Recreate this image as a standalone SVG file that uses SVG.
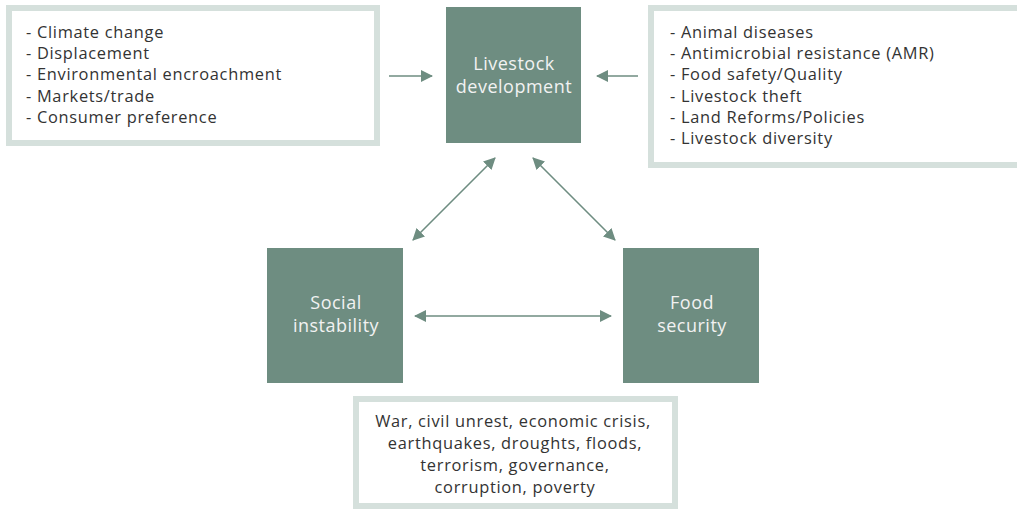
<svg xmlns="http://www.w3.org/2000/svg" width="1017" height="512" viewBox="0 0 1017 512">
<defs>
<marker id="ah" viewBox="0 0 12 12" refX="11" refY="6" markerWidth="12" markerHeight="12" markerUnits="userSpaceOnUse" orient="auto-start-reverse">
<path d="M0,0 L12,6 L0,12 Z" fill="#6e8d81"/>
</marker>
<style>
.frame{fill:#ffffff;stroke:#d5e0dc;stroke-width:6}
.node{fill:#6e8d81}
.nt{font-family:"Open Sans","Noto Sans",sans-serif;font-size:18px;letter-spacing:0.5px;fill:#f2f2f2;text-anchor:middle}
.lt{font-family:"Open Sans","Noto Sans",sans-serif;font-size:16.4px;letter-spacing:0.7px;fill:#333333}
.ct{font-family:"Open Sans","Noto Sans",sans-serif;font-size:16.4px;letter-spacing:0.7px;fill:#333333;text-anchor:middle}
.conn{stroke:#6e8d81;stroke-width:1.6;fill:none}
</style>
</defs>
<rect width="1017" height="512" fill="#ffffff"/>
<g id="external-factors">
<rect class="frame" x="9" y="8" width="368" height="135"/>
<text class="lt" x="26" y="38">- Climate change</text>
<text class="lt" x="26" y="59">- Displacement</text>
<text class="lt" x="26" y="80">- Environmental encroachment</text>
<text class="lt" x="26" y="102">- Markets/trade</text>
<text class="lt" x="26" y="123">- Consumer preference</text>
</g>
<g id="livestock-factors">
<rect class="frame" x="651" y="8" width="380" height="157"/>
<text class="lt" x="670" y="38">- Animal diseases</text>
<text class="lt" x="670" y="59">- Antimicrobial resistance (AMR)</text>
<text class="lt" x="670" y="80">- Food safety/Quality</text>
<text class="lt" x="670" y="102">- Livestock theft</text>
<text class="lt" x="670" y="123">- Land Reforms/Policies</text>
<text class="lt" x="670" y="144">- Livestock diversity</text>
</g>
<g id="social-factors">
<rect class="frame" x="356" y="399" width="319" height="107"/>
<text class="ct" x="513" y="427">War, civil unrest, economic crisis,</text>
<text class="ct" x="515" y="449">earthquakes, droughts, floods,</text>
<text class="ct" x="515" y="471">terrorism, governance,</text>
<text class="ct" x="515" y="493">corruption, poverty</text>
</g>
<g id="livestock-development">
<rect class="node" x="446" y="7" width="135" height="136"/>
<text class="nt" x="514" y="70">Livestock</text>
<text class="nt" x="514" y="93">development</text>
</g>
<g id="social-instability">
<rect class="node" x="267" y="248" width="136" height="135"/>
<text class="nt" x="336" y="309">Social</text>
<text class="nt" x="336" y="332">instability</text>
</g>
<g id="food-security">
<rect class="node" x="623" y="248" width="136" height="135"/>
<text class="nt" x="692" y="309">Food</text>
<text class="nt" x="692" y="332">security</text>
</g>
<g id="connectors">
<line class="conn" x1="389" y1="76" x2="432" y2="76" marker-end="url(#ah)"/>
<line class="conn" x1="638" y1="76" x2="597" y2="76" marker-end="url(#ah)"/>
<line class="conn" x1="413" y1="240" x2="495" y2="158" marker-start="url(#ah)" marker-end="url(#ah)"/>
<line class="conn" x1="533" y1="158" x2="615" y2="240" marker-start="url(#ah)" marker-end="url(#ah)"/>
<line class="conn" x1="415" y1="316" x2="611" y2="316" marker-start="url(#ah)" marker-end="url(#ah)"/>
</g>
</svg>
